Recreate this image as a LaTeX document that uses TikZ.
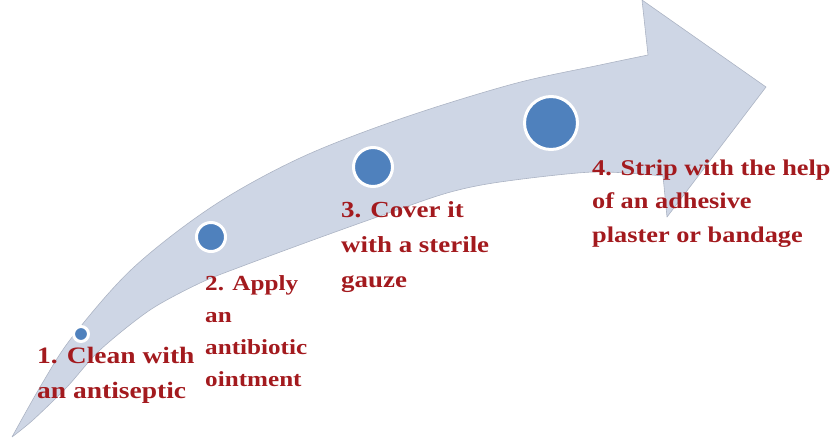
\documentclass[tikz,border=0pt]{standalone}
\usepackage{fontspec}
\setmainfont{Liberation Serif}[FakeStretch=1.17]
\definecolor{arrowfill}{RGB}{206,214,229}
\definecolor{arrowedge}{RGB}{172,180,196}
\definecolor{dotblue}{RGB}{79,129,189}
\definecolor{steptext}{RGB}{163,26,30}
\tikzset{
  arrowbody/.style={fill=arrowfill, draw=arrowedge, line width=0.6pt, line join=round},
  dot/.style={circle, fill=dotblue, draw=white, line width=3pt, inner sep=0pt},
  steplabel/.style={anchor=base west, align=left, inner sep=0pt, text=steptext, font=\bfseries},
}
\begin{document}
\begin{tikzpicture}[x=1pt, y=-1pt]
\useasboundingbox (0,0) rectangle (835,445);
\path[arrowbody]
  plot[smooth, tension=0.55] coordinates {(12,437) (43,382) (73,336) (133,268) (213,206) (300,158) (400,119) (513,84) (600,65) (648,55)}
  -- (642,0) -- (766,87) -- (667,217) -- (663,176)
  -- plot[smooth, tension=0.5] coordinates {(663,176) (593,172) (500,182) (447,193) (380,216) (313,240) (240,267) (200,283) (150,310) (100,350) (67,387) (33,420) (12,437)}
  -- cycle;
\node[dot, minimum size=15pt] (d1) at (81,334) {};
\node[dot, minimum size=29pt] (d2) at (211,237) {};
\node[dot, minimum size=39pt] (d3) at (373,167) {};
\node[dot, minimum size=53pt] (d4) at (551,123) {};
% anchor = baseline of the last line
\node[steplabel, font=\bfseries\fontsize{23.5}{35}\selectfont] (t1) at (37,398) {1. Clean with\\an antiseptic};
\node[steplabel, font=\bfseries\fontsize{21.5}{32}\selectfont] (t2) at (205,386) {2. Apply\\an\\antibiotic\\ointment};
\node[steplabel, font=\bfseries\fontsize{23}{35}\selectfont] (t3) at (341,287) {3. Cover it\\with a sterile\\gauze};
\node[steplabel, font=\bfseries\fontsize{22.5}{33.5}\selectfont] (t4) at (592,242) {4. Strip with the help\\of an adhesive\\plaster or bandage};
\end{tikzpicture}
\end{document}
